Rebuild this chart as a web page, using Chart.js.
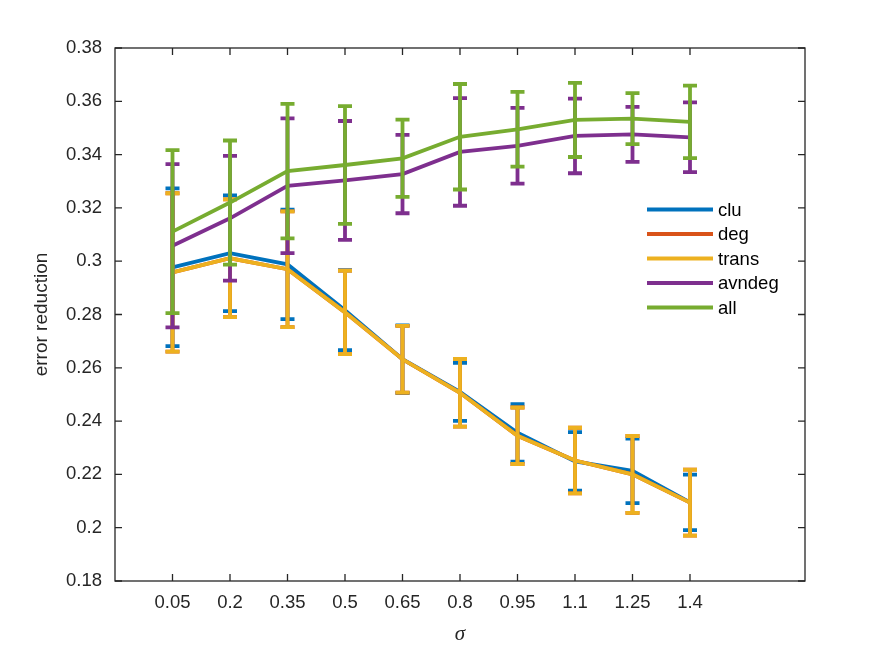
<!DOCTYPE html>
<html>
<head>
<meta charset="utf-8">
<script src="https://cdn.jsdelivr.net/npm/chart.js@4/dist/chart.umd.min.js"></script>
<style>
  body { margin: 0; background: #fff; }
  #chart { display: block; }
</style>
</head>
<body>
<canvas id="chart" width="888" height="653"></canvas>
<script>
// valeurs de sigma (axe x)
var sigmaLabels = ['0.05', '0.2', '0.35', '0.5', '0.65', '0.8', '0.95', '1.1', '1.25', '1.4'];
var yTicks = [0.18, 0.2, 0.22, 0.24, 0.26, 0.28, 0.3, 0.32, 0.34, 0.36, 0.38];

// moyennes et ecarts
var cluMean = [0.2977, 0.3030, 0.2988, 0.2816, 0.2632, 0.2510, 0.2356, 0.2249, 0.2213, 0.2095];
var cluErr = [0.0296, 0.0217, 0.0205, 0.0150, 0.0127, 0.0109, 0.0108, 0.0110, 0.0121, 0.0104];
var degMean = [0.2958, 0.3011, 0.2970, 0.2808, 0.2632, 0.2506, 0.2345, 0.2252, 0.2200, 0.2094];
var degErr = [0.0297, 0.0221, 0.0217, 0.0157, 0.0125, 0.0127, 0.0106, 0.0123, 0.0144, 0.0124];
var transMean = [0.2958, 0.3011, 0.2970, 0.2808, 0.2632, 0.2506, 0.2345, 0.2252, 0.2200, 0.2094];
var transErr = [0.0297, 0.0221, 0.0217, 0.0157, 0.0125, 0.0127, 0.0106, 0.0123, 0.0144, 0.0124];
var avndegMean = [0.3058, 0.3161, 0.3283, 0.3303, 0.3327, 0.3410, 0.3433, 0.3470, 0.3476, 0.3465];
var avndegErr = [0.0306, 0.0234, 0.0253, 0.0223, 0.0147, 0.0202, 0.0142, 0.0140, 0.0103, 0.0131];
var allMean = [0.3111, 0.3220, 0.3338, 0.3361, 0.3386, 0.3467, 0.3495, 0.3530, 0.3535, 0.3523];
var allErr = [0.0306, 0.0233, 0.0252, 0.0221, 0.0145, 0.0198, 0.0140, 0.0139, 0.0096, 0.0136];

var axisColor = '#262626';
var lineW = 3.8;

function makeSeries(label, color, means, errs, order)
{
    return {
        label: label,
        data: means.map(function(v, i) { return { x: i + 1, y: v }; }),
        errors: errs,
        borderColor: color,
        backgroundColor: color,
        borderWidth: lineW,
        pointRadius: 0,
        tension: 0,
        order: order
    };
}

// barres d'erreur dessinees juste apres chaque serie
var errorBarPlugin = {
    id: 'errorBars',
    afterDatasetDraw: function(chart, args) {
        var ds = chart.data.datasets[args.index];
        var ctx = chart.ctx;
        var xs = chart.scales.x, ys = chart.scales.y;
        ctx.save();
        ctx.strokeStyle = ds.borderColor;
        ctx.lineWidth = lineW;
        ctx.lineCap = 'butt';
        ds.data.forEach(function(p, j) {
            var x = xs.getPixelForValue(p.x);
            var yt = ys.getPixelForValue(p.y + ds.errors[j]);
            var yb = ys.getPixelForValue(p.y - ds.errors[j]);
            ctx.beginPath();
            ctx.moveTo(x, yt); ctx.lineTo(x, yb);
            ctx.moveTo(x - 7, yt); ctx.lineTo(x + 7, yt);
            ctx.moveTo(x - 7, yb); ctx.lineTo(x + 7, yb);
            ctx.stroke();
        });
        ctx.restore();
    }
};

// cadre, graduations vers l'interieur, titres et legende facon matlab
var framePlugin = {
    id: 'frame',
    afterDraw: function(chart) {
        var ctx = chart.ctx;
        var a = chart.chartArea;
        var xs = chart.scales.x, ys = chart.scales.y;
        ctx.save();
        ctx.strokeStyle = axisColor;
        ctx.lineWidth = 1.3;
        ctx.strokeRect(a.left, a.top, a.right - a.left, a.bottom - a.top);
        ctx.beginPath();
        sigmaLabels.forEach(function(l, i) {
            var x = xs.getPixelForValue(i + 1);
            ctx.moveTo(x, a.bottom); ctx.lineTo(x, a.bottom - 7);
            ctx.moveTo(x, a.top); ctx.lineTo(x, a.top + 7);
        });
        yTicks.forEach(function(v) {
            var y = ys.getPixelForValue(v);
            ctx.moveTo(a.left, y); ctx.lineTo(a.left + 7, y);
            ctx.moveTo(a.right, y); ctx.lineTo(a.right - 7, y);
        });
        ctx.stroke();

        // titres des axes
        ctx.fillStyle = axisColor;
        ctx.textAlign = 'center';
        ctx.textBaseline = 'middle';
        ctx.font = 'italic 21px "Liberation Serif"';
        ctx.fillText('σ', (a.left + a.right) / 2, 634);
        ctx.save();
        ctx.translate(42, (a.top + a.bottom) / 2);
        ctx.rotate(-Math.PI / 2);
        ctx.font = '19px "Liberation Sans"';
        ctx.fillText('error reduction', 0, 0);
        ctx.restore();

        // legende
        ctx.font = '18.5px "Liberation Sans"';
        ctx.textAlign = 'left';
        chart.data.datasets.forEach(function(ds, i) {
            var y = 209.5 + i * 24.5;
            ctx.strokeStyle = ds.borderColor;
            ctx.lineWidth = lineW;
            ctx.beginPath();
            ctx.moveTo(647, y); ctx.lineTo(713, y);
            ctx.stroke();
            ctx.fillStyle = '#000';
            ctx.fillText(ds.label, 718, y + 1);
        });
        ctx.restore();
    }
};

var ctx = document.getElementById('chart').getContext('2d');
new Chart(ctx, {
    type: 'line',
    data: {
        datasets: [
            makeSeries('clu', '#0072BD', cluMean, cluErr, 5),
            makeSeries('deg', '#D95319', degMean, degErr, 4),
            makeSeries('trans', '#EDB120', transMean, transErr, 3),
            makeSeries('avndeg', '#7E2F8E', avndegMean, avndegErr, 2),
            makeSeries('all', '#77AC30', allMean, allErr, 1)
        ]
    },
    options: {
        responsive: false,
        animation: false,
        layout: { padding: { left: 0, top: 48, right: 83, bottom: 0 } },
        plugins: { legend: { display: false }, tooltip: { enabled: false } },
        scales: {
            x: {
                type: 'linear',
                min: 0,
                max: 12,
                grid: { display: false, drawTicks: false },
                border: { display: false },
                afterBuildTicks: function(scale) {
                    scale.ticks = sigmaLabels.map(function(l, i) { return { value: i + 1 }; });
                },
                afterFit: function(scale) { scale.height = 72; },
                ticks: {
                    autoSkip: false,
                    maxRotation: 0,
                    padding: 11,
                    color: axisColor,
                    font: { family: 'Liberation Sans', size: 18.5 },
                    callback: function(v) { return sigmaLabels[v - 1]; }
                }
            },
            y: {
                min: 0.18,
                max: 0.38,
                grid: { display: false, drawTicks: false },
                border: { display: false },
                afterBuildTicks: function(scale) {
                    scale.ticks = yTicks.map(function(v) { return { value: v }; });
                },
                afterFit: function(scale) { scale.width = 115; },
                ticks: {
                    padding: 13,
                    color: axisColor,
                    font: { family: 'Liberation Sans', size: 18.5 },
                    callback: function(v) { return String(parseFloat(v.toFixed(2))); }
                }
            }
        }
    },
    plugins: [errorBarPlugin, framePlugin]
});
</script>
</body>
</html>
